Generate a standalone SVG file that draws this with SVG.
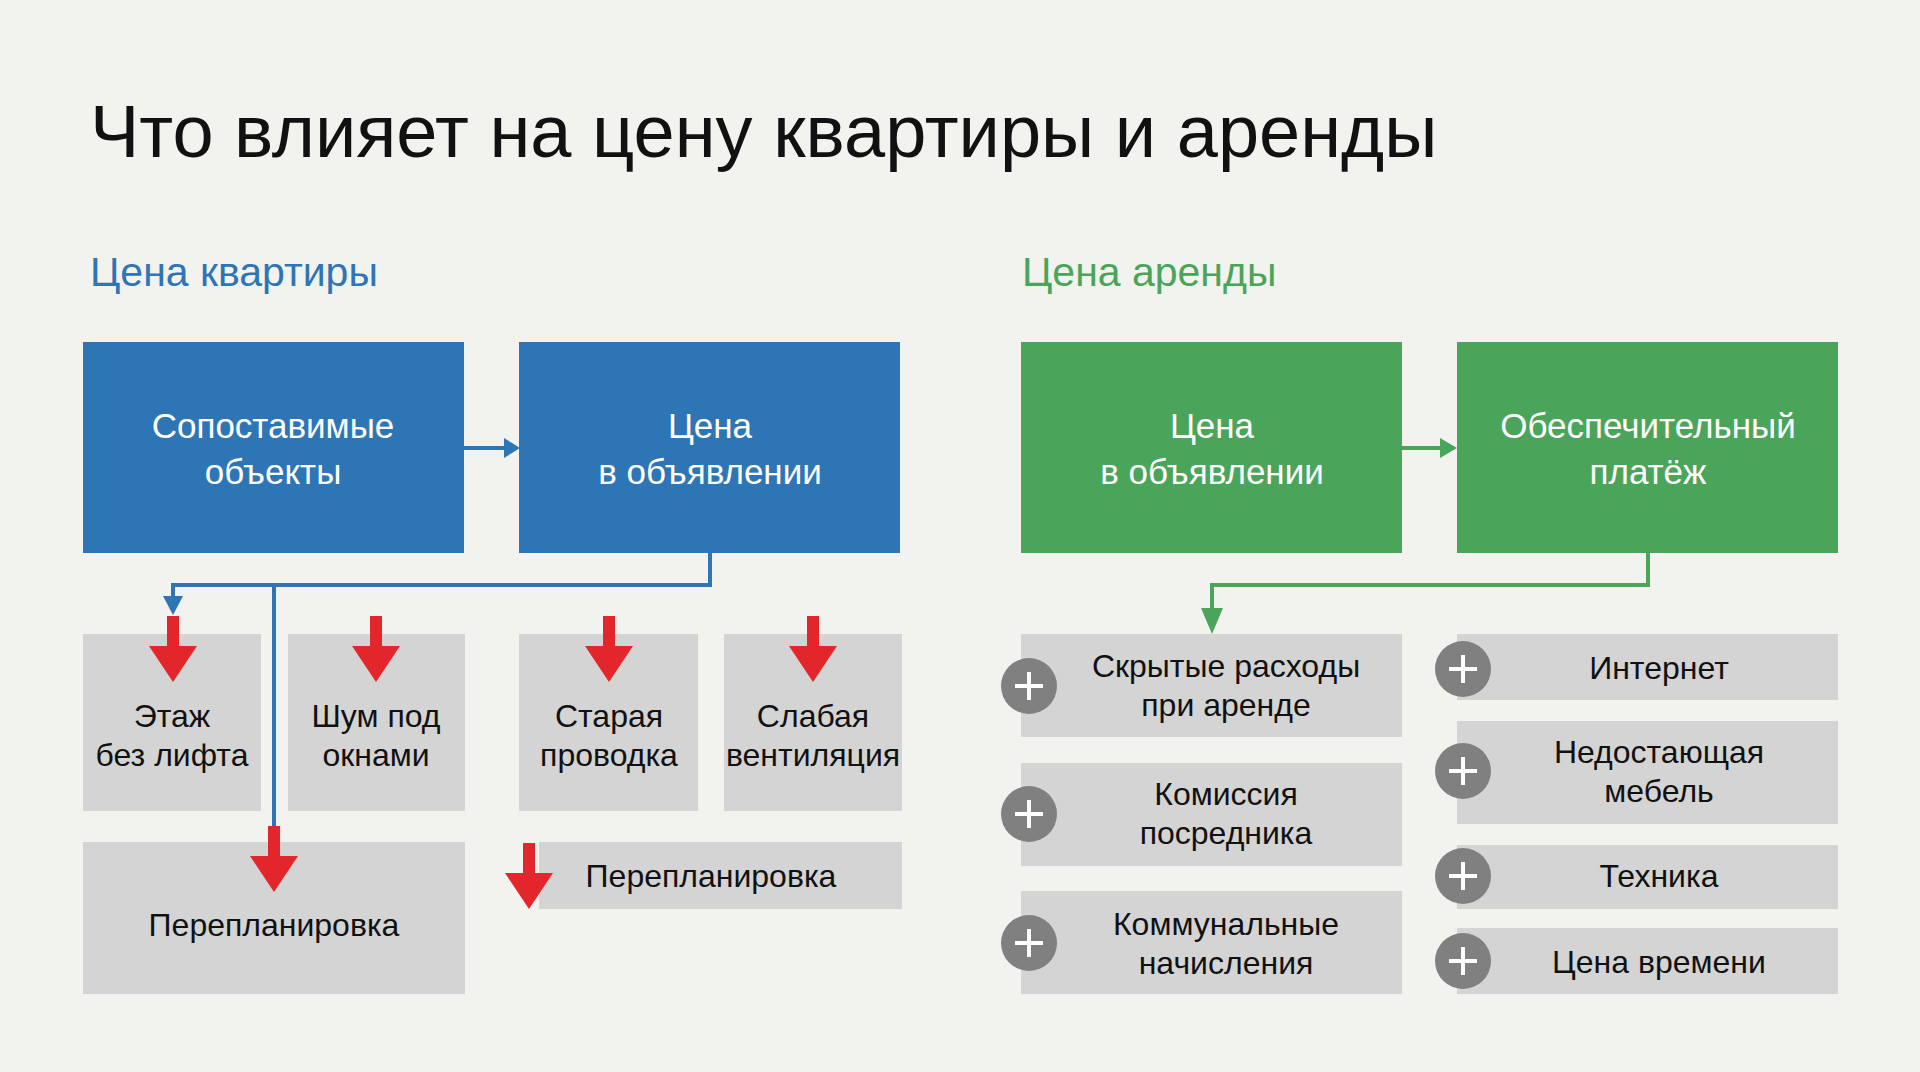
<svg xmlns="http://www.w3.org/2000/svg" width="1920" height="1072" viewBox="0 0 1920 1072">
<style>
text{font-family:"Liberation Sans",Arial,sans-serif;text-anchor:middle}
.t{font-size:74px;fill:#111;text-anchor:start}
.st{font-size:41px;text-anchor:start}
.hb{font-size:35px;fill:#fff}
.g{fill:#d4d4d4}
.gt{font-size:32px;fill:#111}
.ra{fill:#e3262b}
.pl{fill:#808080}
.plx{stroke:#fff;stroke-width:4}
</style>
<defs>
<marker id="ab" markerWidth="8" markerHeight="8" refX="6" refY="4" orient="auto" markerUnits="userSpaceOnUse" viewBox="0 0 8 8"><path d="M0,0 L8,4 L0,8z" fill="#2e75b6"/></marker>
<path id="red" d="M-6,0 H6 V30 H24 L0,66 L-24,30 H-6z"/>
<g id="plus"><circle r="28" class="pl"/><path d="M-14,0H14M0,-14V14" class="plx"/></g>
</defs>
<rect width="1920" height="1072" fill="#f2f2ef"/>
<text x="90" y="157" class="t">Что влияет на цену квартиры и аренды</text>
<text x="90" y="286" class="st" fill="#2e75b6">Цена квартиры</text>
<text x="1022" y="286" class="st" fill="#4aa55a">Цена аренды</text>

<g id="connectors" fill="none" stroke-width="4">
<path d="M464,448 H507" stroke="#2e75b6"/><path d="M504,438 L520,448 L504,458z" fill="#2e75b6" stroke="none"/>
<path d="M1402,448 H1443" stroke="#4aa55a"/><path d="M1440,438 L1457,448 L1440,458z" fill="#4aa55a" stroke="none"/>
<path d="M710,553 V585 H173 V600" stroke="#2e75b6"/><path d="M163,596 L183,596 L173,615z" fill="#2e75b6" stroke="none"/>
<path d="M274,585 V830" stroke="#2e75b6"/>
<path d="M1648,553 V585 H1212 V612" stroke="#4aa55a"/><path d="M1201,608 L1223,608 L1212,634z" fill="#4aa55a" stroke="none"/>
</g>

<g id="n1"><rect x="83" y="342" width="381" height="211" fill="#2e75b6"/><text x="273" y="438" class="hb">Сопоставимые</text><text x="273" y="484" class="hb">объекты</text></g>
<g id="n2"><rect x="519" y="342" width="381" height="211" fill="#2e75b6"/><text x="710" y="438" class="hb">Цена</text><text x="710" y="484" class="hb">в объявлении</text></g>
<g id="n3"><rect x="1021" y="342" width="381" height="211" fill="#4aa55a"/><text x="1212" y="438" class="hb">Цена</text><text x="1212" y="484" class="hb">в объявлении</text></g>
<g id="n4"><rect x="1457" y="342" width="381" height="211" fill="#4aa55a"/><text x="1648" y="438" class="hb">Обеспечительный</text><text x="1648" y="484" class="hb">платёж</text></g>

<g id="l1"><rect x="83" y="634" width="178" height="177" class="g"/><use href="#red" x="173" y="616" class="ra"/><text x="172" y="727" class="gt">Этаж</text><text x="172" y="766" class="gt">без лифта</text></g>
<g id="l2"><rect x="288" y="634" width="177" height="177" class="g"/><use href="#red" x="376" y="616" class="ra"/><text x="376" y="727" class="gt">Шум под</text><text x="376" y="766" class="gt">окнами</text></g>
<g id="l3"><rect x="519" y="634" width="179" height="177" class="g"/><use href="#red" x="609" y="616" class="ra"/><text x="609" y="727" class="gt">Старая</text><text x="609" y="766" class="gt">проводка</text></g>
<g id="l4"><rect x="724" y="634" width="178" height="177" class="g"/><use href="#red" x="813" y="616" class="ra"/><text x="813" y="727" class="gt">Слабая</text><text x="813" y="766" class="gt">вентиляция</text></g>
<g id="l5"><rect x="83" y="842" width="382" height="152" class="g"/><use href="#red" x="274" y="826" class="ra"/><text x="274" y="936" class="gt">Перепланировка</text></g>
<g id="l6"><rect x="539" y="842" width="363" height="67" class="g"/><use href="#red" x="529" y="843" class="ra"/><text x="711" y="887" class="gt">Перепланировка</text></g>

<g id="r1"><rect x="1021" y="634" width="381" height="103" class="g"/><use href="#plus" x="1029" y="686"/><text x="1226" y="677" class="gt">Скрытые расходы</text><text x="1226" y="716" class="gt">при аренде</text></g>
<g id="r2"><rect x="1021" y="763" width="381" height="103" class="g"/><use href="#plus" x="1029" y="814"/><text x="1226" y="805" class="gt">Комиссия</text><text x="1226" y="844" class="gt">посредника</text></g>
<g id="r3"><rect x="1021" y="891" width="381" height="103" class="g"/><use href="#plus" x="1029" y="943"/><text x="1226" y="935" class="gt">Коммунальные</text><text x="1226" y="974" class="gt">начисления</text></g>
<g id="r4"><rect x="1457" y="634" width="381" height="66" class="g"/><use href="#plus" x="1463" y="669"/><text x="1659" y="679" class="gt">Интернет</text></g>
<g id="r5"><rect x="1457" y="721" width="381" height="103" class="g"/><use href="#plus" x="1463" y="771"/><text x="1659" y="763" class="gt">Недостающая</text><text x="1659" y="802" class="gt">мебель</text></g>
<g id="r6"><rect x="1457" y="845" width="381" height="64" class="g"/><use href="#plus" x="1463" y="876"/><text x="1659" y="887" class="gt">Техника</text></g>
<g id="r7"><rect x="1457" y="928" width="381" height="66" class="g"/><use href="#plus" x="1463" y="961"/><text x="1659" y="973" class="gt">Цена времени</text></g>
</svg>
